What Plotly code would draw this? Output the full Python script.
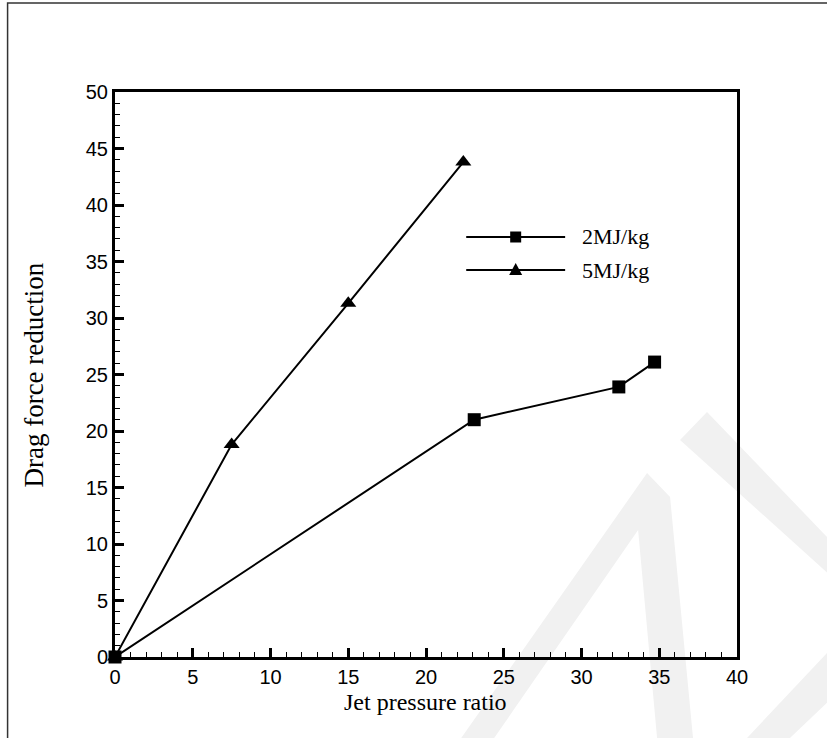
import plotly.graph_objects as go

# ---- data ----
jpr_2mj = [0, 23.1, 32.4, 34.7]
drag_2mj = [0, 21.0, 23.9, 26.1]
jpr_5mj = [0, 7.5, 15.0, 22.4]
drag_5mj = [0, 18.8, 31.3, 43.8]
series_names = ["2MJ/kg", "5MJ/kg"]
x_ticks = [0, 5, 10, 15, 20, 25, 30, 35, 40]
y_ticks = [0, 5, 10, 15, 20, 25, 30, 35, 40, 45, 50]

W, H = 827, 738
L, R, T, B = 114.5, 90, 92, 81
PW, PH = W - L - R, H - T - B


def px(x):
    return (x - L) / PW


def py(y):
    return (H - B - y) / PH


fig = go.Figure()
fig.add_trace(go.Scatter(x=jpr_2mj, y=drag_2mj, mode="lines+markers", name=series_names[0],
                         line=dict(color="black", width=2),
                         marker=dict(symbol="square", size=13, color="black"),
                         cliponaxis=False, showlegend=False))
fig.add_trace(go.Scatter(x=jpr_5mj, y=drag_5mj, mode="lines+markers", name=series_names[1],
                         line=dict(color="black", width=2),
                         marker=dict(symbol="triangle-up", size=14, color="black"),
                         cliponaxis=False, showlegend=False))

# manual legend geometry (pixels)
leg_rows_y = [237, 270]
leg_x0, leg_x1, leg_text_x = 466, 565, 580
leg_mx = (leg_x0 + leg_x1) / 2

shapes = []
# watermark (very light)
wm_color = "#f1f1f1"
polys = [
    [(680, 440), (707, 412), (830, 540), (830, 575)],
    [(461, 738), (647, 473), (670, 497), (693, 738), (657, 738), (638, 530), (494, 738)],
    [(830, 650), (747, 738), (790, 738), (830, 700)],
]
for poly in polys:
    path = "M " + " L ".join(f"{px(a):.4f},{py(b):.4f}" for a, b in poly) + " Z"
    shapes.append(dict(type="path", xref="paper", yref="paper", path=path,
                       fillcolor=wm_color, line=dict(width=0), layer="below"))
# image frame
shapes.append(dict(type="rect", xref="paper", yref="paper", x0=px(7), x1=px(840), y0=py(750), y1=py(3),
                   line=dict(color="#333333", width=1.5), layer="below"))
# legend lines and symbols
for yy in leg_rows_y:
    shapes.append(dict(type="line", xref="paper", yref="paper", x0=px(leg_x0), x1=px(leg_x1),
                       y0=py(yy), y1=py(yy), line=dict(color="black", width=2)))
s = 5.5
yy = leg_rows_y[0]
shapes.append(dict(type="rect", xref="paper", yref="paper", x0=px(leg_mx - s), x1=px(leg_mx + s),
                   y0=py(yy + s), y1=py(yy - s), fillcolor="black", line=dict(width=0)))
yy = leg_rows_y[1]
tri = [(leg_mx - 6.5, yy + 5), (leg_mx + 6.5, yy + 5), (leg_mx, yy - 7)]
shapes.append(dict(type="path", xref="paper", yref="paper",
                   path="M " + " L ".join(f"{px(a):.4f},{py(b):.4f}" for a, b in tri) + " Z",
                   fillcolor="black", line=dict(width=0)))

annotations = []
for name, yy in zip(series_names, leg_rows_y):
    annotations.append(dict(text=name, xref="paper", yref="paper", x=px(leg_text_x), y=py(yy),
                            xanchor="left", yanchor="middle", showarrow=False,
                            font=dict(family="Liberation Serif", size=22, color="black")))
annotations.append(dict(text="Jet pressure ratio", xref="paper", yref="paper", x=px(425), y=py(702),
                        xanchor="center", yanchor="middle", showarrow=False,
                        font=dict(family="Liberation Serif", size=24, color="black")))
annotations.append(dict(text="Drag force reduction", xref="paper", yref="paper", x=px(33), y=py(375),
                        xanchor="center", yanchor="middle", showarrow=False, textangle=-90,
                        font=dict(family="Liberation Serif", size=27, color="black")))

axis_common = dict(showgrid=False, zeroline=False, showline=True, linecolor="black", linewidth=3,
                   mirror=True, ticks="inside", ticklen=9, tickwidth=2.5, tickcolor="black",
                   tickfont=dict(family="Liberation Sans", size=20, color="black"),
                   minor=dict(ticks="inside", ticklen=5, tickwidth=1, tickcolor="black", dtick=1))

fig.update_layout(
    width=W, height=H,
    margin=dict(l=L, r=R, t=T, b=B),
    paper_bgcolor="white", plot_bgcolor="rgba(0,0,0,0)",
    xaxis=dict(range=[0, 40], tickvals=x_ticks, ticktext=[str(v) for v in x_ticks], **axis_common),
    yaxis=dict(range=[0, 50], tickvals=y_ticks, ticktext=[str(v) for v in y_ticks], **axis_common),
    shapes=shapes, annotations=annotations, showlegend=False,
)
fig.write_html("out.html")
